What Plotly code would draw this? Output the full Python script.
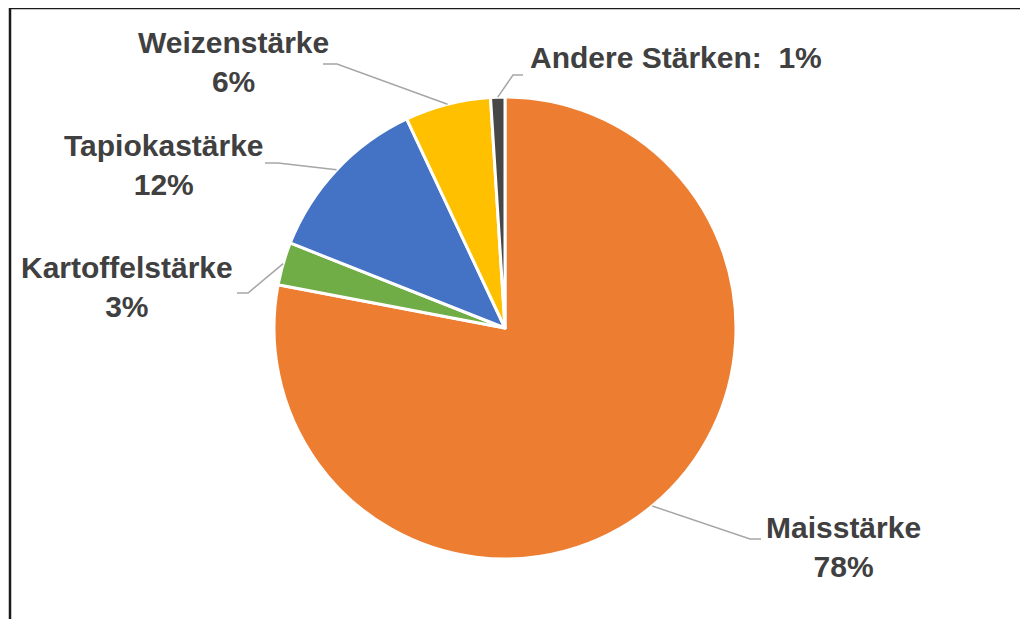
import math
import plotly.graph_objects as go

# ---- data ----
categories = ["Maisstärke", "Kartoffelstärke", "Tapiokastärke", "Weizenstärke", "Andere Stärken"]
values = [78, 3, 12, 6, 1]
colors = ["#ED7D31", "#70AD47", "#4472C4", "#FFC000", "#474747"]

# ---- layout constants (screen pixels) ----
W, H = 1028, 619
OFF = 8  # page body margin
CX, CY, R = 505, 328, 231
TEXT_COLOR = "#404040"
FONT = "Liberation Sans, Arial, sans-serif"
FS = 30

# label centre, label text template, elbow point(s) for leader line
label_layout = {
    "Maisstärke": dict(x=843, y=547, text="{c}<br>{v}%", elbow=[(750, 539), (761, 539)]),
    "Kartoffelstärke": dict(x=127, y=287, text="{c}<br>{v}%", elbow=[(248, 293), (237, 293)]),
    "Tapiokastärke": dict(x=164, y=165, text="{c}<br>{v}%", elbow=[(278, 163), (265, 163)]),
    "Weizenstärke": dict(x=233, y=62, text="{c}<br>{v}%", elbow=[(337, 64), (323, 64)]),
    "Andere Stärken": dict(x=676, y=57, text="{c}:  {v}%", elbow=[(513, 75), (523, 75)]),
}


def px(x):
    return (x - OFF) / W


def py(y):
    return 1 - (y - OFF) / H


fig = go.Figure()
fig.add_trace(go.Pie(
    labels=categories,
    values=values,
    marker=dict(colors=colors, line=dict(color="white", width=3)),
    sort=False,
    direction="clockwise",
    rotation=0,
    textinfo="none",
    hoverinfo="label+percent",
    showlegend=False,
    domain=dict(x=[px(CX - R), px(CX + R)], y=[py(CY + R), py(CY - R)]),
))

total = sum(values)
shapes = []
annotations = []
cum = 0
for cat, val in zip(categories, values):
    mid = (cum + val / 2) / total * 2 * math.pi
    cum += val
    ax = CX + R * math.sin(mid)
    ay = CY - R * math.cos(mid)
    lay = label_layout[cat]
    pts = [(ax, ay)] + lay["elbow"]
    path = "M " + " L ".join(f"{px(x)},{py(y)}" for x, y in pts)
    shapes.append(dict(type="path", path=path, xref="paper", yref="paper",
                       line=dict(color="#A6A6A6", width=1.5)))
    annotations.append(dict(
        x=px(lay["x"]), y=py(lay["y"]), xref="paper", yref="paper",
        text="<b>" + lay["text"].format(c=cat, v=val) + "</b>",
        showarrow=False, xanchor="center", yanchor="middle", align="center",
        font=dict(family=FONT, size=FS, color=TEXT_COLOR),
    ))

# chart frame
shapes.append(dict(type="rect", xref="paper", yref="paper",
                   x0=px(10), x1=px(W + 40), y0=py(H + 40), y1=py(8),
                   line=dict(color="#1a1a1a", width=2.5)))

fig.update_layout(
    width=W, height=H,
    margin=dict(l=0, r=0, t=0, b=0),
    paper_bgcolor="white",
    plot_bgcolor="white",
    shapes=shapes,
    annotations=annotations,
)

fig.write_html("out.html")
